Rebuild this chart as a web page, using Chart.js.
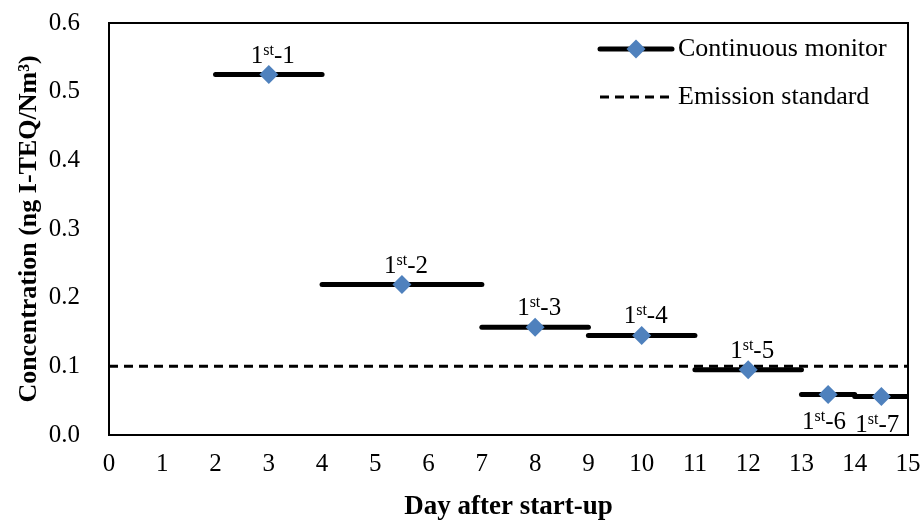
<!DOCTYPE html>
<html>
<head>
<meta charset="utf-8">
<script src="https://cdn.jsdelivr.net/npm/chart.js@4"></script>
<style>
  html, body { margin: 0; padding: 0; background: #fff; }
  #wrap { width: 924px; height: 520px; }
</style>
</head>
<body>
<div id="wrap"><canvas id="myChart" width="924" height="520"></canvas></div>
<script>
// sampling periods (day after start-up) and measured concentration
let segStart = [2, 4, 7, 9, 11, 13, 14];
let segEnd   = [4, 7, 9, 11, 13, 14, 15];
let midDay   = [3, 5.5, 8, 10, 12, 13.5, 14.5];
let conc     = [0.525, 0.219, 0.157, 0.145, 0.095, 0.059, 0.056];
let runNo    = ['1', '2', '3', '4', '5', '6', '7'];
let labelBelow = [false, false, false, false, false, true, true];
let standard = 0.1;

const FONT = '"Liberation Serif", "Times New Roman", serif';
const BLUE = '#4F81BD';

let datasets = [];
for (let i = 0; i < conc.length; i++) {
    datasets.push({
        data: [{x: segStart[i], y: conc[i]}, {x: segEnd[i], y: conc[i]}],
        showLine: true,
        borderColor: '#000',
        borderWidth: 5,
        borderCapStyle: 'round',
        pointRadius: 0,
        order: 2,
    });
}
datasets.push({
    data: [{x: 0, y: standard}, {x: 15, y: standard}],
    showLine: true,
    borderColor: '#000',
    borderWidth: 3,
    borderDash: [9, 6],
    pointRadius: 0,
    order: 1,
});
datasets.push({
    data: midDay.map((d, i) => ({x: d, y: conc[i]})),
    pointStyle: 'rectRot',
    pointRadius: 9.5,
    backgroundColor: BLUE,
    borderColor: BLUE,
    borderWidth: 0,
    order: 0,
});

// frame, run labels and legend
const extras = {
    id: 'extras',
    afterDraw(chart) {
        const {ctx, chartArea: a, scales: {x, y}} = chart;
        ctx.save();
        ctx.strokeStyle = '#000';
        ctx.lineWidth = 2;
        ctx.strokeRect(a.left, a.top, a.right - a.left, a.bottom - a.top);

        ctx.fillStyle = '#000';
        ctx.textBaseline = 'alphabetic';
        for (let i = 0; i < conc.length; i++) {
            const px = x.getPixelForValue(midDay[i]) + (labelBelow[i] ? -4 : 4);
            const py = y.getPixelForValue(conc[i]);
            const base = labelBelow[i] ? py + 35 : py - 12;
            ctx.font = '25px ' + FONT;
            const w1 = ctx.measureText('1').width;
            const w3 = ctx.measureText('-' + runNo[i]).width;
            ctx.font = '16px ' + FONT;
            const w2 = ctx.measureText('st').width;
            let sx = px - (w1 + w2 + w3) / 2;
            ctx.font = '25px ' + FONT;
            ctx.textAlign = 'left';
            ctx.fillText('1', sx, base);
            ctx.font = '16px ' + FONT;
            ctx.fillText('st', sx + w1, base - 8);
            ctx.font = '25px ' + FONT;
            ctx.fillText('-' + runNo[i], sx + w1 + w2, base);
        }

        // legend
        const lx0 = 600, lx1 = 672, tx = 678;
        ctx.lineCap = 'round';
        ctx.lineWidth = 5;
        ctx.beginPath(); ctx.moveTo(lx0, 49); ctx.lineTo(lx1, 49); ctx.stroke();
        ctx.fillStyle = BLUE;
        ctx.beginPath();
        ctx.moveTo(636, 39.5); ctx.lineTo(645.5, 49); ctx.lineTo(636, 58.5); ctx.lineTo(626.5, 49);
        ctx.closePath(); ctx.fill();
        ctx.lineCap = 'butt';
        ctx.lineWidth = 3;
        ctx.setLineDash([9, 6]);
        ctx.beginPath(); ctx.moveTo(lx0, 97); ctx.lineTo(lx1, 97); ctx.stroke();
        ctx.setLineDash([]);
        ctx.fillStyle = '#000';
        ctx.font = '26px ' + FONT;
        ctx.textBaseline = 'middle';
        ctx.fillText('Continuous monitor', tx, 49);
        ctx.fillText('Emission standard', tx, 97);
        ctx.restore();
    }
};

let ctx = document.getElementById('myChart').getContext('2d');
let chart = new Chart(ctx, {
    type: 'scatter',
    data: { datasets: datasets },
    options: {
        responsive: false,
        animation: false,
        layout: { padding: { top: 23, right: 16, left: 0, bottom: 0 } },
        plugins: { legend: { display: false }, tooltip: { enabled: false } },
        scales: {
            x: {
                type: 'linear',
                min: 0, max: 15,
                afterFit: (s) => { s.height = 85; s.paddingLeft = 0; s.paddingRight = 0; },
                grid: { display: false, drawTicks: false },
                border: { display: false },
                ticks: { stepSize: 1, padding: 14, color: '#000', font: { family: FONT, size: 25 } },
                title: {
                    display: true,
                    text: 'Day after start-up',
                    color: '#000',
                    padding: { bottom: -3 },
                    font: { family: FONT, size: 27, weight: 'bold' },
                },
            },
            y: {
                min: 0, max: 0.6,
                afterFit: (s) => { s.width = 109; s.paddingTop = 0; s.paddingBottom = 0; },
                grid: { display: false, drawTicks: false },
                border: { display: false },
                ticks: {
                    stepSize: 0.1, padding: 29, color: '#000',
                    font: { family: FONT, size: 25 },
                    callback: (v) => v.toFixed(1),
                },
                title: {
                    display: true,
                    text: 'Concentration (ng I-TEQ/Nm³)',
                    color: '#000',
                    padding: { top: 14 },
                    font: { family: FONT, size: 26, weight: 'bold' },
                },
            },
        },
    },
    plugins: [extras],
});
</script>
</body>
</html>
